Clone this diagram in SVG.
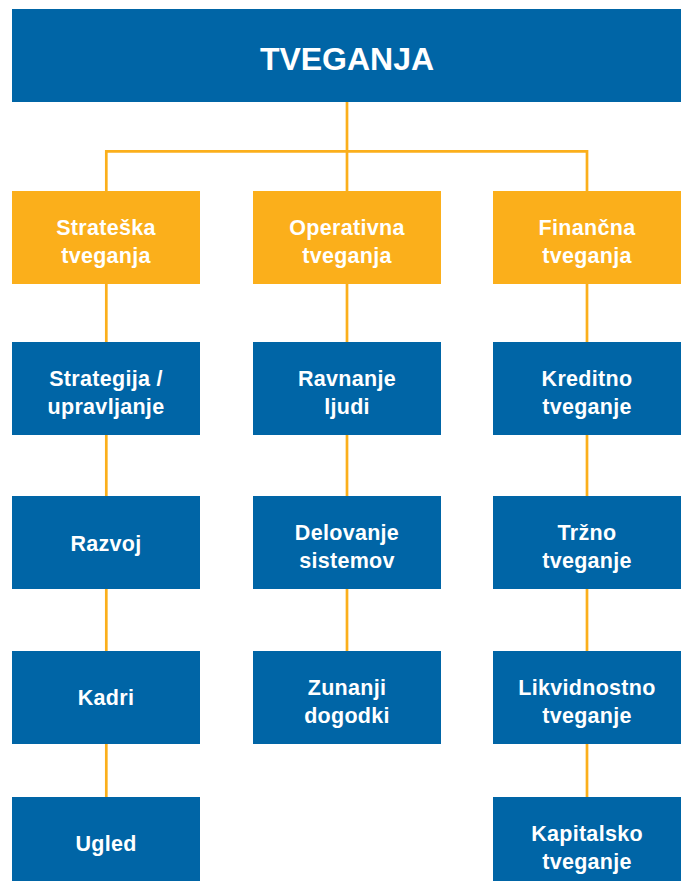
<svg xmlns="http://www.w3.org/2000/svg" width="686" height="881" viewBox="0 0 686 881">
<style>
.b{fill:#0065A6}
.o{fill:#FBAF1B}
text{font-family:"Liberation Sans",Arial,sans-serif;font-weight:bold;fill:#fff;text-anchor:middle;font-size:21.5px;letter-spacing:0.3px}
.t{font-size:32px;letter-spacing:0}
.c{stroke:#FBAF1B;stroke-width:2.7;fill:none}
</style>
<rect width="686" height="881" fill="#fff"/>
<g id="connectors" class="c">
<path d="M347 102V191"/>
<path d="M106.3 191V151.3H587V191"/>
<path d="M106.3 284V342M106.3 435V496M106.3 589V651M106.3 744V797"/>
<path d="M347 284V342M347 435V496M347 589V651"/>
<path d="M587 284V342M587 435V496M587 589V651M587 744V797"/>
</g>
<g id="tveganja"><rect class="b" x="12" y="9" width="669" height="93"/><text class="t" x="347" y="70">TVEGANJA</text></g>
<g id="strateska"><rect class="o" x="12" y="191" width="188" height="93"/><text x="106" y="235">Strateška</text><text x="106" y="263">tveganja</text></g>
<g id="operativna"><rect class="o" x="253" y="191" width="188" height="93"/><text x="347" y="235">Operativna</text><text x="347" y="263">tveganja</text></g>
<g id="financna"><rect class="o" x="493" y="191" width="188" height="93"/><text x="587" y="235">Finančna</text><text x="587" y="263">tveganja</text></g>
<g id="strategija"><rect class="b" x="12" y="342" width="188" height="93"/><text x="106" y="386">Strategija /</text><text x="106" y="414">upravljanje</text></g>
<g id="ravnanje"><rect class="b" x="253" y="342" width="188" height="93"/><text x="347" y="386">Ravnanje</text><text x="347" y="414">ljudi</text></g>
<g id="kreditno"><rect class="b" x="493" y="342" width="188" height="93"/><text x="587" y="386">Kreditno</text><text x="587" y="414">tveganje</text></g>
<g id="razvoj"><rect class="b" x="12" y="496" width="188" height="93"/><text x="106" y="551">Razvoj</text></g>
<g id="delovanje"><rect class="b" x="253" y="496" width="188" height="93"/><text x="347" y="540">Delovanje</text><text x="347" y="568">sistemov</text></g>
<g id="trzno"><rect class="b" x="493" y="496" width="188" height="93"/><text x="587" y="540">Tržno</text><text x="587" y="568">tveganje</text></g>
<g id="kadri"><rect class="b" x="12" y="651" width="188" height="93"/><text x="106" y="705">Kadri</text></g>
<g id="zunanji"><rect class="b" x="253" y="651" width="188" height="93"/><text x="347" y="695">Zunanji</text><text x="347" y="723">dogodki</text></g>
<g id="likvidnostno"><rect class="b" x="493" y="651" width="188" height="93"/><text x="587" y="695">Likvidnostno</text><text x="587" y="723">tveganje</text></g>
<g id="ugled"><rect class="b" x="12" y="797" width="188" height="93"/><text x="106" y="851">Ugled</text></g>
<g id="kapitalsko"><rect class="b" x="493" y="797" width="188" height="93"/><text x="587" y="841">Kapitalsko</text><text x="587" y="869">tveganje</text></g>
</svg>
